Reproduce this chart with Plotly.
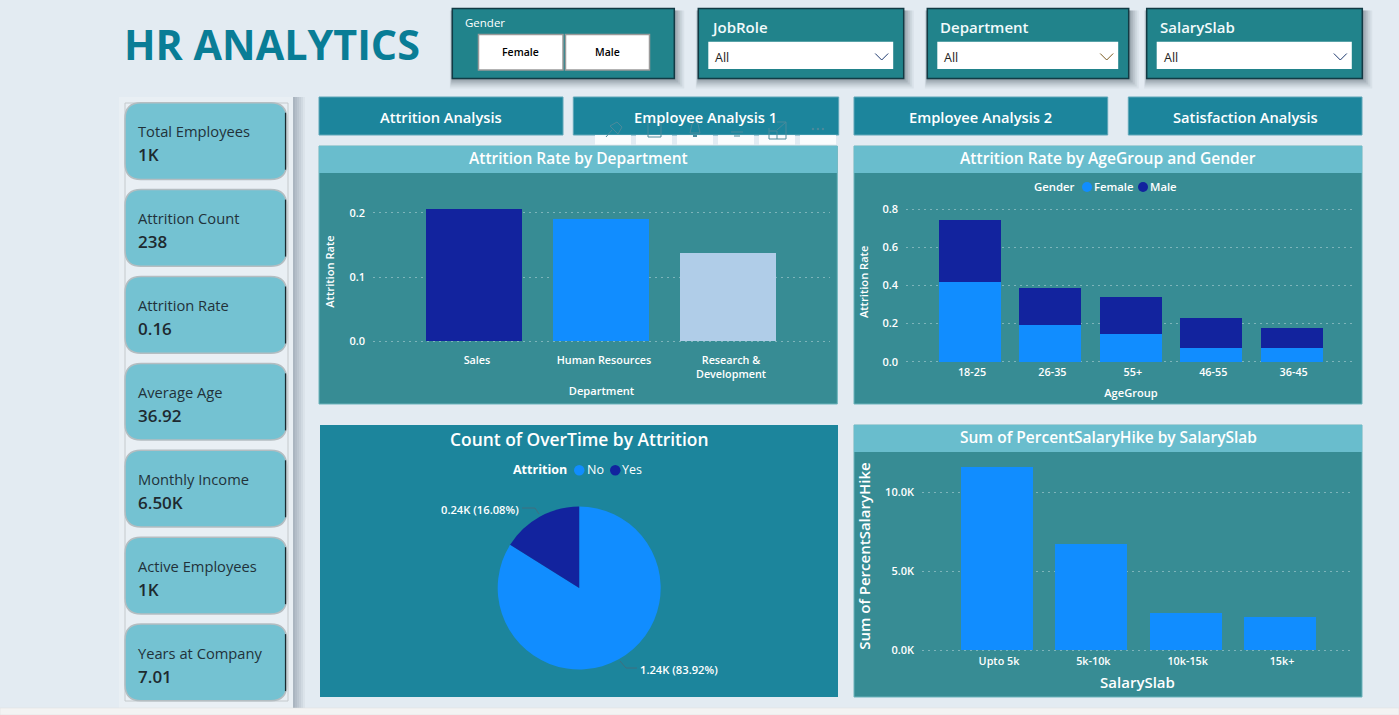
import plotly.graph_objects as go

W, H = 1399, 715

departments = ["Sales", "Human Resources", "Research &<br>Development"]
dept_rate = [0.207, 0.191, 0.138]
dept_colors = ["#12239E", "#118DFF", "#B0CDE8"]

age_groups = ["18-25", "26-35", "55+", "46-55", "36-45"]
age_female = [0.42, 0.194, 0.144, 0.07, 0.07]
age_male = [0.324, 0.191, 0.194, 0.161, 0.108]

attrition_labels = ["No", "Yes"]
attrition_counts = [1240, 238]
attrition_text = ["1.24K (83.92%)", "0.24K (16.08%)"]

salary_slabs = ["Upto 5k", "5k-10k", "10k-15k", "15k+"]
salary_hike = [11580, 6700, 2340, 2090]

kpi_names = ["Total Employees", "Attrition Count", "Attrition Rate", "Average Age",
             "Monthly Income", "Active Employees", "Years at Company"]
kpi_values = ["1K", "238", "0.16", "36.92", "6.50K", "1K", "7.01"]

nav_labels = ["Attrition Analysis", "Employee Analysis 1", "Employee Analysis 2", "Satisfaction Analysis"]
slicer_names = ["JobRole", "Department", "SalarySlab"]

FONT = "Open Sans"
BG = "#E3EBF2"
PANEL = "#378C94"
HEAD = "#69BDCD"
NAV = "#1C859C"
SLICER = "#21838B"
KPI = "#74C2D2"
FEMALE = "#118DFF"
MALE = "#12239E"
EDGE = "#6CB3BB"
ICON = "#4B8A9B"


def px(x):
    return x / W


def py(y):
    return 1 - y / H


shapes = []
annotations = []


def rect(x0, y0, x1, y1, fill, line=None, lw=0, opacity=1):
    shapes.append(dict(type="rect", xref="paper", yref="paper", layer="below",
                       x0=px(x0), x1=px(x1), y0=py(y0), y1=py(y1),
                       fillcolor=fill, opacity=opacity,
                       line=dict(color=line or fill, width=lw)))


def text(x, y, s, size, color="white", anchor="left", weight=400):
    if anchor == "left":
        x -= 2
    annotations.append(dict(xref="paper", yref="paper", x=px(x), y=py(y), text=s,
                            showarrow=False, xanchor=anchor, yanchor="middle",
                            font=dict(family=FONT, size=size, color=color, weight=weight)))


def shadow(x0, y0, x1, y1):
    for d, o in [(10, 0.05), (8, 0.07), (6, 0.09), (4, 0.11), (2, 0.13)]:
        rect(x0 - (d / 4), y0 + 2, x1 + d, y1 + d, "#1D3038", opacity=o)


def stroke(points, color, width=1, close=False, layer="below"):
    d = "M " + " L ".join(f"{px(a)} {py(b)}" for a, b in points)
    shapes.append(dict(type="path", xref="paper", yref="paper", layer=layer,
                       path=d + (" Z" if close else ""), line=dict(color=color, width=width)))


def dot(x0, y0, x1, y1, fill):
    shapes.append(dict(type="circle", xref="paper", yref="paper", x0=px(x0), x1=px(x1), y0=py(y1), y1=py(y0),
                       fillcolor=fill, line=dict(width=0), layer="below"))


def rounded(x0, y0, x1, y1, r, fill, line, lw=1.5):
    path = (f"M {px(x0 + r)} {py(y0)} L {px(x1 - r)} {py(y0)} "
            f"Q {px(x1)} {py(y0)} {px(x1)} {py(y0 + r)} L {px(x1)} {py(y1 - r)} "
            f"Q {px(x1)} {py(y1)} {px(x1 - r)} {py(y1)} L {px(x0 + r)} {py(y1)} "
            f"Q {px(x0)} {py(y1)} {px(x0)} {py(y1 - r)} L {px(x0)} {py(y0 + r)} "
            f"Q {px(x0)} {py(y0)} {px(x0 + r)} {py(y0)} Z")
    shapes.append(dict(type="path", xref="paper", yref="paper", layer="below", path=path,
                       fillcolor=fill, line=dict(color=line, width=lw)))


text(124, 44, "HR ANALYTICS", 41.3, "#097D96", weight=700)

# slicers
shadow(452.3, 8.5, 674.3, 78.5)
rect(452.3, 8.5, 674.3, 78.5, SLICER, "#123A44", 1.5)
text(465, 23, "Gender", 11.5)
for x0, x1, lab in [(478.5, 563, "Female"), (565.5, 649.5, "Male")]:
    rect(x0, 34.5, x1, 70, "white", "#9A9A9A", 1.5)
    text((x0 + x1) / 2, 52, lab, 10.5, "black", "center", weight=600)

for (x0, x1), name in zip([(698.3, 903.7), (927.3, 1128.7), (1146.7, 1362.3)], slicer_names):
    shadow(x0, 8.5, x1, 78.5)
    rect(x0, 8.5, x1, 78.5, SLICER, "#123A44", 1.5)
    text(x0 + 13, 27, name, 15, "#F2FAFB", weight=600)
    rect(x0 + 10, 41.7, x1 - 10.5, 69, "white")
    text(x0 + 17, 58, "All", 12.5, "#222222")
    ax = x1 - 22
    stroke([(ax - 6.5, 53.5), (ax, 60), (ax + 6.5, 53.5)],
           "#7A5A20" if name == "Department" else "#1E3A70", 1, layer="above")

# KPI column
for d, o in [(12, 0.04), (10, 0.05), (8, 0.05), (6, 0.05), (4, 0.05), (2, 0.05)]:
    rect(293, 97, 293 + d, 708, "#1D3038", opacity=o)
rect(119, 97, 293, 708, "#E9EFF4")
rect(125, 103, 288, 701, "rgba(0,0,0,0)", "#C4C9CC", 1)
for i, (n, v) in enumerate(zip(kpi_names, kpi_values)):
    top = 102.7 + i * 86.9
    rounded(125, top, 286.7, top + 76.7, 16, KPI, "#B4BDC1", 1.5)
    stroke([(285.5, top + 10), (285.5, top + 67)], "#1A2A30", 1.2)
    text(138, top + 28.5, n, 14.7, "#22323A")
    text(138, top + 52, v, 17, "#1E2A30", weight=600)

# bottom strip of the window
rect(0, 708, W, H, "#F3F3F3", "#DDDDDD", 0.5)

# nav buttons
for (x0, x1), lab in zip([(319, 563), (573.3, 838.7), (854, 1107.7), (1128.3, 1362)], nav_labels):
    rect(x0, 97, x1, 135, NAV, "#5FA6B8", 1)
    text((x0 + x1) / 2, 117, lab, 14.7, "white", "center", weight=600)

# panels
rect(319, 146, 837.3, 404, PANEL, EDGE, 1)
rect(319, 146, 837.3, 173, HEAD)
text(578, 158, "Attrition Rate by Department", 15.5, "white", "center", weight=600)
rect(854, 146, 1362, 404, PANEL, EDGE, 1)
rect(854, 146, 1362, 173, HEAD)
text(1108, 158, "Attrition Rate by AgeGroup and Gender", 15.6, "white", "center", weight=600)
rect(320, 425, 838, 697, NAV)
text(579, 438.5, "Count of OverTime by Attrition", 17.4, "white", "center", weight=600)
rect(854, 425, 1362, 697, PANEL, EDGE, 1)
rect(854, 425, 1362, 452, HEAD)
text(1108, 437, "Sum of PercentSalaryHike by SalarySlab", 15.5, "white", "center", weight=600)

# legends
text(1034, 187, "Gender", 11.3, "white", weight=600)
dot(1082, 182, 1092, 192, FEMALE)
text(1094, 187, "Female", 11.3, "white", weight=600)
dot(1138, 182, 1148, 192, MALE)
text(1150, 187, "Male", 11.3, "white", weight=600)

text(513, 470, "Attrition", 12.5, "white", weight=700)
dot(574, 465, 584.5, 475.5, FEMALE)
text(586.5, 470, "No", 12.5, "white")
dot(610, 465, 620.5, 475.5, MALE)
text(622, 470, "Yes", 12.5, "white")

# pie labels with their leader lines
text(441, 509, attrition_text[1], 11.2, "white", weight=600)
text(640, 669, attrition_text[0], 11.2, "white", weight=600)
stroke([(522, 508), (535, 508), (539, 514)], "#3F6F80", 1)
stroke([(620, 661), (626, 668), (637, 668)], "#3F6F80", 1)

# hover toolbar left over the navigation button
for i in range(6):
    x0 = 595 + i * 41
    rect(x0, 135, x0 + 36, 144.5, "white", opacity=0.85)
stroke([(606, 137), (612, 130)], ICON)
stroke([(610, 126), (617, 122), (622, 127), (618, 134)], ICON, close=True)
stroke([(648, 122), (661, 122), (661, 137), (648, 137)], ICON, close=True)
stroke([(690, 133), (692, 124), (695, 121), (698, 124), (700, 133)], ICON, close=True)
stroke([(693, 136), (697, 136)], ICON, 2)
stroke([(731, 132), (743, 132)], ICON)
stroke([(734, 136), (740, 136)], ICON)
stroke([(769, 128), (769, 139), (786, 139), (786, 122), (777, 122)], ICON)
stroke([(777, 130), (786, 122)], ICON)
stroke([(769, 131), (777, 131), (777, 139)], ICON)
for cx in (813, 818, 823):
    dot(cx - 1.2, 127.8, cx + 1.2, 130.2, ICON)

fig = go.Figure()


def bar_axes(n, dom_x, dom_y, xrange, yrange, tickvals, ticktext, xtitle, ytitle,
             shift=0, xlab=0, ylab=7, xstand=8, ystand=12, tsz=11.1):
    fig.layout[f"xaxis{n}"] = dict(
        domain=[px(dom_x[0]), px(dom_x[1])], range=xrange, anchor=f"y{n}", type="category",
        automargin=False, showgrid=False, zeroline=False, showline=False, ticks="",
        ticklabelshift=shift, ticklabelstandoff=xlab,
        tickfont=dict(family=FONT, size=10.8, color="white", weight=600),
        title=dict(text=xtitle, font=dict(family=FONT, size=tsz, color="white", weight=600), standoff=xstand))
    fig.layout[f"yaxis{n}"] = dict(
        domain=[py(dom_y[1]), py(dom_y[0])], range=yrange, anchor=f"x{n}", automargin=False,
        tickvals=tickvals, ticktext=ticktext, showgrid=True, gridcolor="rgba(222,235,238,0.42)",
        griddash="2px,4px", gridwidth=1.3, zeroline=False, showline=False, ticks="", ticklabelstandoff=ylab,
        tickfont=dict(family=FONT, size=11, color="white", weight=600),
        title=dict(text=ytitle, font=dict(family=FONT, size=tsz, color="white", weight=600), standoff=ystand))


# chart 1
fig.add_trace(go.Bar(x=departments, y=dept_rate, marker=dict(color=dept_colors, line=dict(width=0)),
                     xaxis="x", yaxis="y", showlegend=False, width=0.756))
bar_axes("", (373, 830), (200, 343), [-0.795, 2.803], [-0.003125, 0.2203], [0, 0.1, 0.2], ["0.0", "0.1", "0.2"],
         "Department", "Attrition Rate", shift=3, xlab=9, xstand=7, ystand=12)

# chart 2
fig.add_trace(go.Bar(x=age_groups, y=age_female, marker=dict(color=FEMALE, line=dict(width=0)), name="Female",
                     xaxis="x2", yaxis="y2", showlegend=False, width=0.771))
fig.add_trace(go.Bar(x=age_groups, y=age_male, marker=dict(color=MALE, line=dict(width=0)), name="Male",
                     xaxis="x2", yaxis="y2", showlegend=False, width=0.771))
bar_axes("2", (906, 1356), (200, 363.7), [-0.796, 4.8], [-0.0105, 0.848], [0, 0.2, 0.4, 0.6, 0.8],
         ["0.0", "0.2", "0.4", "0.6", "0.8"], "AgeGroup", "Attrition Rate", shift=2, xlab=0, xstand=11, ystand=11)

# chart 3
fig.add_trace(go.Pie(labels=attrition_labels, values=attrition_counts, sort=False, direction="clockwise", rotation=0,
                     marker=dict(colors=[FEMALE, MALE], line=dict(width=0)), textinfo="none", showlegend=False,
                     domain=dict(x=[px(497.7), px(660.7)], y=[py(669.5), py(506.5)])))

# chart 4
fig.add_trace(go.Bar(x=salary_slabs, y=salary_hike, marker=dict(color=FEMALE, line=dict(width=0)),
                     xaxis="x3", yaxis="y3", showlegend=False, width=0.763))
bar_axes("3", (922, 1353), (460, 652), [-0.795, 3.774], [-126.6, 12025], [0, 5000, 10000], ["0.0K", "5.0K", "10.0K"],
         "SalarySlab", "Sum of PercentSalaryHike", shift=2, xlab=1, xstand=10, ystand=10, tsz=15)

fig.update_layout(width=W, height=H, margin=dict(l=0, r=0, t=0, b=0), autosize=False,
                  paper_bgcolor=BG, plot_bgcolor="rgba(0,0,0,0)", barmode="stack",
                  shapes=shapes, annotations=annotations, font=dict(family=FONT), hovermode=False)

fig.write_html("out.html", config=dict(displayModeBar=False),
               post_script="document.body.style.margin='0';document.body.style.overflow='hidden';")
